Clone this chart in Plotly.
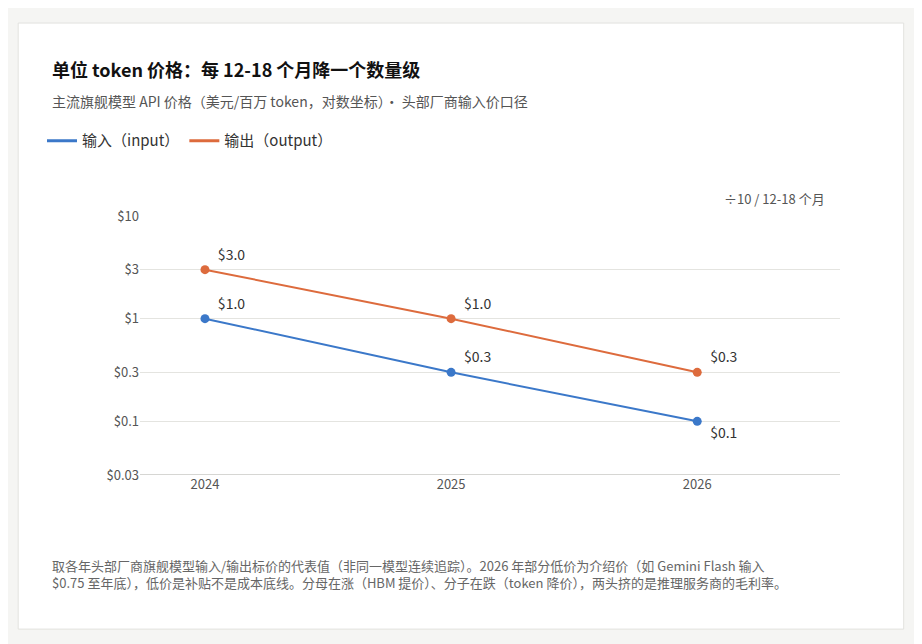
import plotly.graph_objects as go
import math

years = [2024, 2025, 2026]
input_price = [1.0, 0.3, 0.1]
output_price = [3.0, 1.0, 0.3]
input_labels = ["$1.0", "$0.3", "$0.1"]
output_labels = ["$3.0", "$1.0", "$0.3"]
tick_vals = [10, 3, 1, 0.3, 0.1, 0.03]
tick_text = ["$10", "$3", "$1", "$0.3", "$0.1", "$0.03"]

FONT = "Noto Sans CJK SC"
BLUE, ORANGE = "#3b78c9", "#dd6b3d"
fig = go.Figure()
fig.add_trace(go.Scatter(x=years, y=input_price, mode="lines+markers+text", showlegend=False,
    line=dict(color=BLUE, width=2), marker=dict(size=9),
    text=["  " + t for t in input_labels], textposition=["top right", "top right", "bottom right"],
    textfont=dict(size=14, color="#333")))
fig.add_trace(go.Scatter(x=years, y=output_price, mode="lines+markers+text", showlegend=False,
    line=dict(color=ORANGE, width=2), marker=dict(size=9),
    text=["  " + t for t in output_labels], textposition="top right",
    textfont=dict(size=14, color="#333")))
fig.add_trace(go.Scatter(x=[None], y=[None], mode="lines", name="输入（input）", line=dict(color=BLUE, width=3)))
fig.add_trace(go.Scatter(x=[None], y=[None], mode="lines", name="输出（output）", line=dict(color=ORANGE, width=3)))

fig.update_layout(
    width=922, height=644, paper_bgcolor="#f5f5f3", plot_bgcolor="white",
    font=dict(family=FONT, color="#333"),
    margin=dict(l=132, r=90, t=208, b=177),
    legend=dict(orientation="h", x=-0.14, xanchor="left", y=1.29, yanchor="middle",
                font=dict(size=15, color="#333"), bgcolor="rgba(0,0,0,0)"),
    xaxis=dict(range=[2023.736, 2026.58], tickvals=years, ticktext=[str(y) for y in years],
               showgrid=False, zeroline=False, tickfont=dict(size=13, color="#555"), ticks=""),
    yaxis=dict(type="log", range=[math.log10(0.03), 1], tickvals=tick_vals, ticktext=tick_text,
               gridcolor="#e4e4e0", zeroline=False, tickfont=dict(size=13, color="#555"), ticks=""),
    shapes=[
        dict(type="rect", xref="paper", yref="paper", x0=-0.174, x1=1.091, y0=-0.595, y1=1.745, layer="below",
             fillcolor="white", line=dict(color="#e2e2de", width=1)),
        dict(type="line", xref="paper", yref="y", x0=0, x1=1, y0=0.03, y1=0.03, line=dict(color="#c8c8c4", width=1.5)),
    ],
    annotations=[
        dict(text="<b>单位 token 价格：每 12-18 个月降一个数量级</b>", xref="paper", yref="paper",
             x=-0.1286, y=1.568, xanchor="left", yanchor="middle", showarrow=False, font=dict(size=18, color="#111")),
        dict(text="主流旗舰模型 API 价格（美元/百万 token，对数坐标）· 头部厂商输入价口径", xref="paper", yref="paper",
             x=-0.1286, y=1.444, xanchor="left", yanchor="middle", showarrow=False, font=dict(size=14, color="#555")),
        dict(text="÷10 / 12-18 个月", xref="paper", yref="paper", x=0.981, y=1.066, xanchor="right", yanchor="middle",
             showarrow=False, font=dict(size=13, color="#555")),
        dict(text="取各年头部厂商旗舰模型输入/输出标价的代表值（非同一模型连续追踪）。2026 年部分低价为介绍价（如 Gemini Flash 输入<br>$0.75 至年底），低价是补贴不是成本底线。分母在涨（HBM 提价）、分子在跌（token 降价），两头挤的是推理服务商的毛利率。",
             xref="paper", yref="paper", x=-0.1286, y=-0.382, xanchor="left", yanchor="middle", align="left",
             showarrow=False, font=dict(size=13, color="#666")),
    ],
)
fig.write_html("out.html")
